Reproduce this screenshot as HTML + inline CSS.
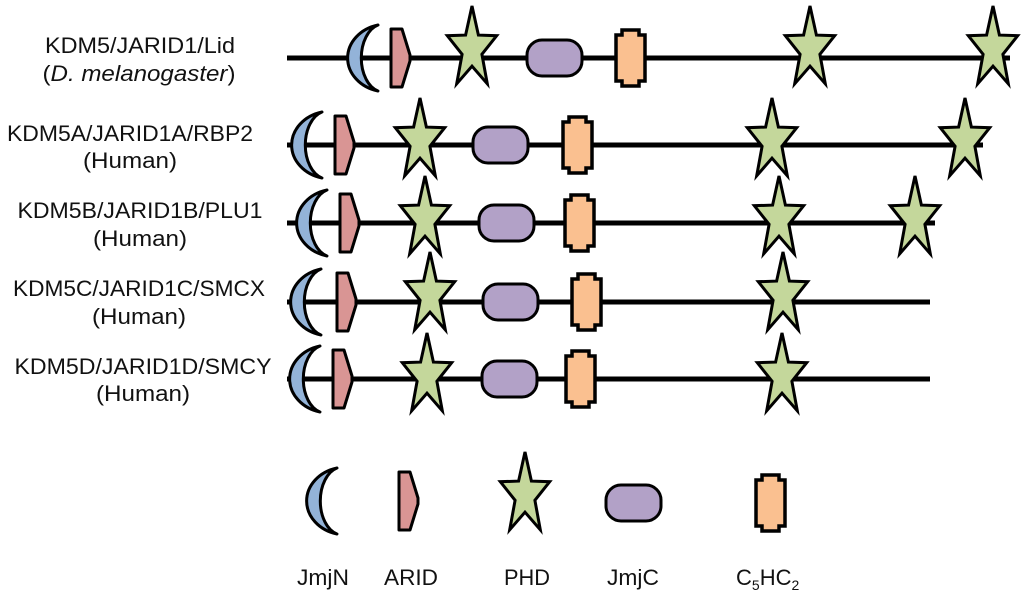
<!DOCTYPE html>
<html><head><meta charset="utf-8"><style>
html,body{margin:0;padding:0;background:#fff;}
svg{display:block;}
text{font-family:"Liberation Sans",sans-serif;font-size:22px;fill:#111;}
</style></head><body>
<svg width="1024" height="601" viewBox="0 0 1024 601" xmlns="http://www.w3.org/2000/svg">
<defs>
<g id="cr"><path d="M30 -33 A40 34 0 0 0 30 33 A22 34 0 0 1 30 -33 Z" fill="#93b3d8" stroke="#000" stroke-width="3" stroke-linejoin="round"/></g>
<g id="ar"><polygon points="0,-29 11,-29 19,-3 19,3 11,29 0,29" fill="#d99594" stroke="#000" stroke-width="3" stroke-linejoin="round"/></g>
<g id="st"><polygon points="0,-43 6.4,-13.9 24.7,-13.3 9.9,5.3 15.3,34.8 0,17.2 -15.3,34.8 -9.9,5.3 -24.7,-13.3 -6.4,-13.9" fill="#c4d79b" stroke="#000" stroke-width="3" stroke-linejoin="miter"/></g>
<g id="jc"><rect x="0" y="-18" width="55" height="36" rx="15" fill="#b2a1c7" stroke="#000" stroke-width="3"/></g>
<g id="c5"><polygon points="6,-28 23,-28 23,-23 29,-23 29,23 23,23 23,28 6,28 6,23 0,23 0,-23 6,-23" fill="#fac090" stroke="#000" stroke-width="3.5"/></g>
</defs>
<g stroke="#000" stroke-width="5">
<line x1="287" y1="58" x2="1010" y2="58"/>
<line x1="287" y1="145" x2="983" y2="145"/>
<line x1="287" y1="223" x2="935" y2="223"/>
<line x1="287" y1="302" x2="930" y2="302"/>
<line x1="287" y1="379" x2="930" y2="379"/>
</g>
<use href="#cr" x="348" y="58"/><use href="#ar" x="391" y="58"/><use href="#st" x="472" y="49"/>
<use href="#jc" x="527" y="58"/><use href="#c5" x="616" y="58"/><use href="#st" x="810" y="49"/><use href="#st" x="993" y="49"/>

<use href="#cr" x="292" y="145"/><use href="#ar" x="335" y="145"/><use href="#st" x="420" y="141"/>
<use href="#jc" x="473" y="145"/><use href="#c5" x="563" y="145"/><use href="#st" x="772" y="141"/><use href="#st" x="965" y="141"/>

<use href="#cr" x="297" y="223"/><use href="#ar" x="340" y="223"/><use href="#st" x="425" y="219"/>
<use href="#jc" x="479" y="223"/><use href="#c5" x="565" y="223"/><use href="#st" x="779" y="219"/><use href="#st" x="915" y="219"/>

<use href="#cr" x="291" y="302"/><use href="#ar" x="337" y="302"/><use href="#st" x="430" y="295"/>
<use href="#jc" x="483" y="302"/><use href="#c5" x="572" y="302"/><use href="#st" x="783" y="295"/>

<use href="#cr" x="290" y="379"/><use href="#ar" x="333" y="379"/><use href="#st" x="427" y="376"/>
<use href="#jc" x="482" y="379"/><use href="#c5" x="566" y="379"/><use href="#st" x="782" y="376"/>

<use href="#cr" x="307" y="501"/><use href="#ar" x="399" y="501"/><use href="#st" x="525" y="495"/>
<use href="#jc" x="606" y="503"/><use href="#c5" x="756" y="503"/>
<text x="297" y="585" textLength="52" lengthAdjust="spacingAndGlyphs">JmjN</text>
<text x="384" y="585" textLength="54" lengthAdjust="spacingAndGlyphs">ARID</text>
<text x="504" y="585" textLength="46" lengthAdjust="spacingAndGlyphs">PHD</text>
<text x="607" y="585" textLength="52" lengthAdjust="spacingAndGlyphs">JmjC</text>
<text x="736" y="585">C<tspan font-size="14" dy="5">5</tspan><tspan dy="-5">HC</tspan><tspan font-size="14" dy="5">2</tspan></text>
<g text-anchor="middle">
<text x="140" y="53" textLength="190" lengthAdjust="spacingAndGlyphs">KDM5/JARID1/Lid</text>
<text x="139" y="81" textLength="193" lengthAdjust="spacingAndGlyphs">(<tspan font-style="italic">D. melanogaster</tspan>)</text>
<text x="130" y="141" textLength="246" lengthAdjust="spacingAndGlyphs">KDM5A/JARID1A/RBP2</text>
<text x="130" y="168" textLength="94" lengthAdjust="spacingAndGlyphs">(Human)</text>
<text x="140" y="218" textLength="245" lengthAdjust="spacingAndGlyphs">KDM5B/JARID1B/PLU1</text>
<text x="140" y="246" textLength="94" lengthAdjust="spacingAndGlyphs">(Human)</text>
<text x="139" y="296" textLength="252" lengthAdjust="spacingAndGlyphs">KDM5C/JARID1C/SMCX</text>
<text x="139" y="324" textLength="94" lengthAdjust="spacingAndGlyphs">(Human)</text>
<text x="143" y="374" textLength="257" lengthAdjust="spacingAndGlyphs">KDM5D/JARID1D/SMCY</text>
<text x="143" y="401" textLength="94" lengthAdjust="spacingAndGlyphs">(Human)</text>
</g>
</svg>
</body></html>
